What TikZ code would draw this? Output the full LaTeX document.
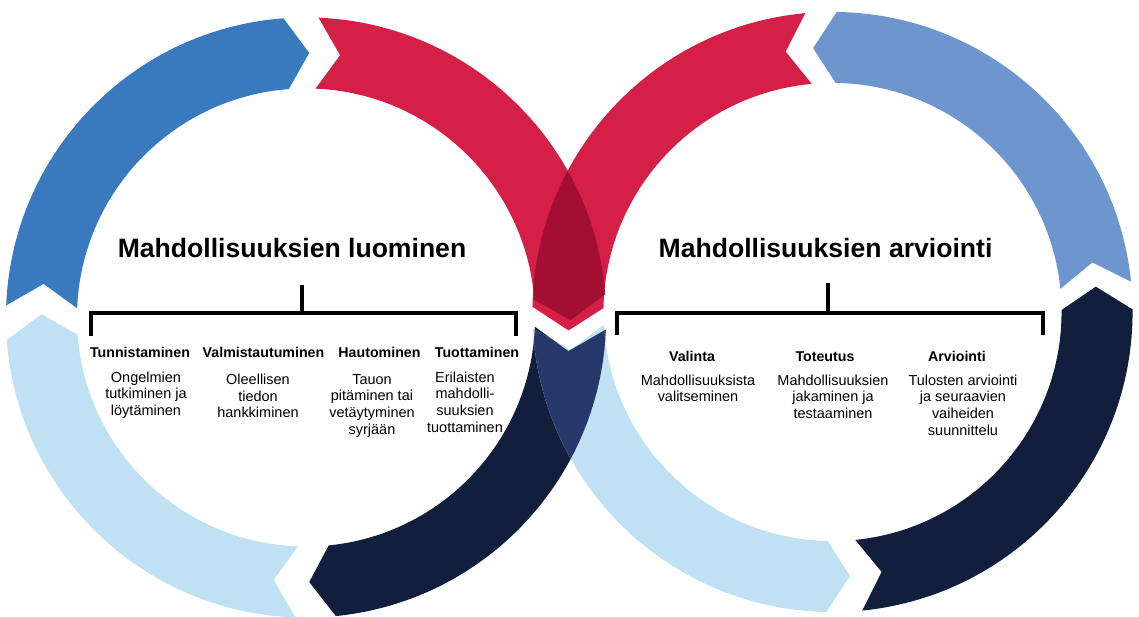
\documentclass[tikz,border=0pt]{standalone}
\usepackage{fontspec}
\setmainfont{Liberation Sans}
\usetikzlibrary{positioning}
\usetikzlibrary{calc}

\definecolor{ringblue}{RGB}{57,121,189}
\definecolor{ringred}{RGB}{212,31,70}
\definecolor{ringnavy}{RGB}{17,31,60}
\definecolor{ringsky}{RGB}{192,224,243}
\definecolor{ringsteel}{RGB}{109,150,206}
\definecolor{redcross}{RGB}{163,15,51}
\definecolor{navycross}{RGB}{39,57,106}

% radii of the rings
\newcommand{\ringout}{7.5cm}
\newcommand{\ringin}{5.725cm}
\newcommand{\ringmid}{6.6125cm}
% one arrow piece of a ring: start angle, end angle, turn of the chevron
\newcommand{\ringseg}[3]{(#1:\ringout) arc (#1:#2:\ringout) -- ({#2+(#3)}:\ringmid) -- (#2:\ringin) arc (#2:#1:\ringin) -- ({#1+(#3)}:\ringmid) -- cycle}

\tikzset{
  ringtitle/.style={font=\fontsize{18.9}{22}\selectfont\bfseries, anchor=base, inner sep=0},
  stephead/.style={font=\fontsize{10.1}{12}\selectfont\bfseries, anchor=base, inner sep=0},
  steptext/.style={font=\fontsize{10.3}{11.8}\selectfont, align=center, anchor=north, inner sep=0},
  brace/.style={line width=3.4pt}
}

\begin{document}
\begin{tikzpicture}[x=0.025cm, y=0.025cm]
\useasboundingbox (0,0) rectangle (1139,617);

%%% left circle: texts
\node[ringtitle] (luominen) at (292,359) {Mahdollisuuksien luominen};

\node[stephead] (tunn) at (140,259) {Tunnistaminen};
\node[stephead] (valm) at (263.5,259) {Valmistautuminen};
\node[stephead] (haut) at (379.5,259) {Hautominen};
\node[stephead] (tuot) at (477,259) {Tuottaminen};

\node[steptext] (tunn-txt) at (146,245.5) {Ongelmien\\tutkiminen ja\\löytäminen};
\node[steptext] (valm-txt) at (258,243) {Oleellisen\\tiedon\\hankkiminen};
\node[steptext] (haut-txt) at (372,243) {Tauon\\pitäminen tai\\vetäytyminen\\syrjään};
\node[steptext] (tuot-txt) at (465,245.5) {Erilaisten\\mahdolli-\\suuksien\\tuottaminen};

\coordinate (lstem) at (302,332);
\coordinate (lbar) at (302,304);
\coordinate (lleft) at (91,281);
\coordinate (lright) at (516,281);
\draw[brace] (lstem) -- (lbar);
\draw[brace] (lleft) -- ++(0,23) -| (lright);

%%% right circle: texts
\node[ringtitle] (arviointi) at (825.5,359) {Mahdollisuuksien arviointi};

\node[stephead] (vali) at (692,255) {Valinta};
\node[stephead] (tote) at (825,255) {Toteutus};
\node[stephead] (arvi) at (957,255) {Arviointi};

\node[steptext] (vali-txt) at (698,242.5) {Mahdollisuuksista\\valitseminen};
\node[steptext] (tote-txt) at (833,242.5) {Mahdollisuuksien\\jakaminen ja\\testaaminen};
\node[steptext] (arvi-txt) at (963,242.5) {Tulosten arviointi\\ja seuraavien\\vaiheiden\\suunnittelu};

\coordinate (rstem) at (828,334);
\coordinate (rbar) at (828,304);
\coordinate (rleft) at (617,282);
\coordinate (rright) at (1043,282);
\draw[brace] (rstem) -- (rbar);
\draw[brace] (rleft) -- ++(0,22) -| (rright);

%%% left ring, clockwise
\begin{scope}[shift={(306,299.5)}]
  \fill[ringblue] \ringseg{177.7}{94.3}{-5};
  \fill[ringred]  \ringseg{87.6}{4.4}{-5};
  \fill[ringnavy] \ringseg{-2.3}{-84.3}{-5};
  \fill[ringsky]  \ringseg{-92}{-175.7}{-5};
\end{scope}

%%% right ring, counter-clockwise
\begin{scope}[shift={(832.5,305)}]
  \fill[ringnavy]  \ringseg{275.7}{360.5}{5};
  \fill[ringsteel] \ringseg{5.8}{89.2}{5};
  \fill[ringred]   \ringseg{95.2}{179}{5};
  \fill[ringsky]   \ringseg{183.2}{268.8}{5};
\end{scope}

%%% where the rings cross
\begin{scope}
  \clip[shift={(306,299.5)}] \ringseg{87.6}{4.4}{-5};
  \fill[redcross, shift={(832.5,305)}] \ringseg{95.2}{179}{5};
\end{scope}
\begin{scope}
  \clip[shift={(306,299.5)}] \ringseg{-2.3}{-84.3}{-5};
  \fill[navycross, shift={(832.5,305)}] \ringseg{183.2}{268.8}{5};
\end{scope}

\end{tikzpicture}
\end{document}
